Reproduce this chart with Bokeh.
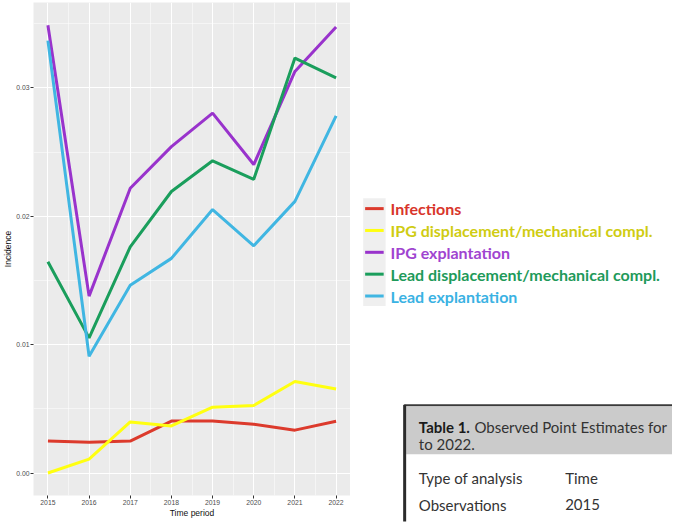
from bokeh.plotting import figure
from bokeh.layouts import row
from bokeh.models import Range1d, FixedTicker, NumeralTickFormatter, ColumnDataSource
from bokeh.core.properties import value
from bokeh.embed import file_html
from bokeh.resources import INLINE

# ---------------- data ----------------
years = [2015, 2016, 2017, 2018, 2019, 2020, 2021, 2022]
infections = [0.00249, 0.00239, 0.00249, 0.00405, 0.00405, 0.00380, 0.00334, 0.00403]
ipg_displacement = [0.00000, 0.00108, 0.00398, 0.00367, 0.00513, 0.00526, 0.00713, 0.00655]
ipg_explantation = [0.03488, 0.01378, 0.02218, 0.02542, 0.02803, 0.02403, 0.03128, 0.03475]
lead_displacement = [0.01646, 0.01053, 0.01762, 0.02193, 0.02432, 0.02288, 0.03232, 0.03078]
lead_explantation = [0.03368, 0.00910, 0.01462, 0.01672, 0.02052, 0.01770, 0.02116, 0.02782]

series_names = ["Infections", "IPG displacement/mechanical compl.", "IPG explantation",
                "Lead displacement/mechanical compl.", "Lead explantation"]
y_ticks = [0.00, 0.01, 0.02, 0.03]
y_minor = [0.005, 0.015, 0.025, 0.035]
x_minor = [2015.5, 2016.5, 2017.5, 2018.5, 2019.5, 2020.5, 2021.5]

table_title_bold = "Table 1."
table_title_rest = "Observed Point Estimates for"
table_title_line2 = "to 2022."
table_row_labels = ["Type of analysis", "Observations"]
table_row_values = ["Time", "2015"]

# ---------------- styles ----------------
line_colors = ["#DC3A2C", "#FFFF10", "#9933CC", "#1A9E5C", "#40B6E2"]
text_colors = ["#D8352B", "#CFCC12", "#A044D0", "#1E9A5A", "#3AB2E3"]
all_series = [infections, ipg_displacement, ipg_explantation, lead_displacement, lead_explantation]

MAIN_W, TOTAL_W, H = 350, 672, 522
TOP_B, BOT_B = 2, 27

# ---------------- main plot ----------------
p = figure(width=MAIN_W, height=H,
           x_range=Range1d(2014.65, 2022.35), y_range=Range1d(-0.00175, 0.03665),
           output_backend="svg", toolbar_location=None,
           min_border_left=24, min_border_right=0, min_border_top=TOP_B, min_border_bottom=BOT_B,
           background_fill_color="#EBEBEB", border_fill_color="white",
           outline_line_color=None)

p.xaxis.ticker = FixedTicker(ticks=years, minor_ticks=x_minor)
p.yaxis.ticker = FixedTicker(ticks=y_ticks, minor_ticks=y_minor)
p.yaxis.formatter = NumeralTickFormatter(format="0.00")
p.xaxis.axis_label = "Time period"
p.yaxis.axis_label = "Incidence"

for ax in (p.xaxis, p.yaxis):
    ax.axis_line_color = None
    ax.major_tick_line_color = "#333333"
    ax.major_tick_out = 3
    ax.major_tick_in = 0
    ax.minor_tick_line_color = None
    ax.major_label_text_font = "Liberation Sans"
    ax.major_label_text_font_size = "6.8px"
    ax.major_label_text_color = "#4D4D4D"
    ax.major_label_standoff = 0
    ax.axis_label_text_font = "Liberation Sans"
    ax.axis_label_text_font_size = "8.5px"
    ax.axis_label_text_font_style = "normal"
    ax.axis_label_text_color = "#111111"
    ax.axis_label_standoff = 0

p.grid.grid_line_color = "white"
p.grid.grid_line_width = 1.1
p.grid.minor_grid_line_color = "white"
p.grid.minor_grid_line_width = 0.5

for vals, c in zip(all_series, line_colors):
    p.line(years, vals, line_width=3, line_color=c)

# ---------------- side panel: legend + table ----------------
# its frame is aligned with the main plot's frame; the ranges are given in the
# reference picture's pixel units (panel spans 7..505.7 vertically, side spans 350..680)
s = figure(width=TOTAL_W - MAIN_W, height=H,
           x_range=Range1d(350, 680), y_range=Range1d(505.7, 7),
           output_backend="svg", toolbar_location=None,
           x_axis_location=None, y_axis_location=None,
           min_border=0, min_border_left=0, min_border_right=0,
           min_border_top=TOP_B, min_border_bottom=BOT_B,
           background_fill_color="white", border_fill_color="white",
           outline_line_color=None)
s.grid.visible = False

# legend
leg_y = [215.5, 237.6, 259.7, 281.8, 303.9]
s.quad(left=363, right=386, top=205, bottom=314, fill_color="#EFEFEF", line_color=None, level="overlay")
leg_src = ColumnDataSource(dict(y=leg_y, name=series_names, lc=line_colors, tc=text_colors))
s.segment(x0=365, x1=384, y0="y", y1="y", line_color="lc", line_width=3, source=leg_src, level="overlay")
s.text(x=391, y="y", text="name", text_color="tc", text_baseline="middle",
       text_font=value("Lato"), text_font_style="bold", text_font_size="16px",
       source=leg_src, level="overlay")

# table fragment
s.quad(left=407, right=680, top=416, bottom=464, fill_color="#CBCBCB", line_color=None, level="overlay")
s.segment(x0=405, x1=680, y0=414.5, y1=414.5, line_color="#3A3A3A", line_width=2, level="overlay")
s.segment(x0=405.5, x1=405.5, y0=414, y1=532, line_color="#2B2B2B", line_width=3, level="overlay")

s.text(x=[420], y=[436], text=[table_title_bold], text_color="#1A1A1A", text_baseline="middle",
       text_font=value("Lato"), text_font_style="bold", text_font_size="15px", level="overlay")
s.text(x=[477], y=[436], text=[table_title_rest], text_color="#333333", text_baseline="middle",
       text_font=value("Lato"), text_font_size="15px", level="overlay")
s.text(x=[420], y=[454], text=[table_title_line2], text_color="#333333", text_baseline="middle",
       text_font=value("Lato"), text_font_size="15px", level="overlay")
row_y = [488, 515]
s.text(x=[420, 420], y=row_y, text=table_row_labels, text_color="#333333", text_baseline="middle",
       text_font=value("Lato"), text_font_size="15px", level="overlay")
s.text(x=[570, 570], y=row_y, text=table_row_values, text_color="#333333", text_baseline="middle",
       text_font=value("Lato"), text_font_size="15px", level="overlay")

layout = row(p, s, spacing=0)
open("out.html", "w").write(file_html(layout, INLINE))
